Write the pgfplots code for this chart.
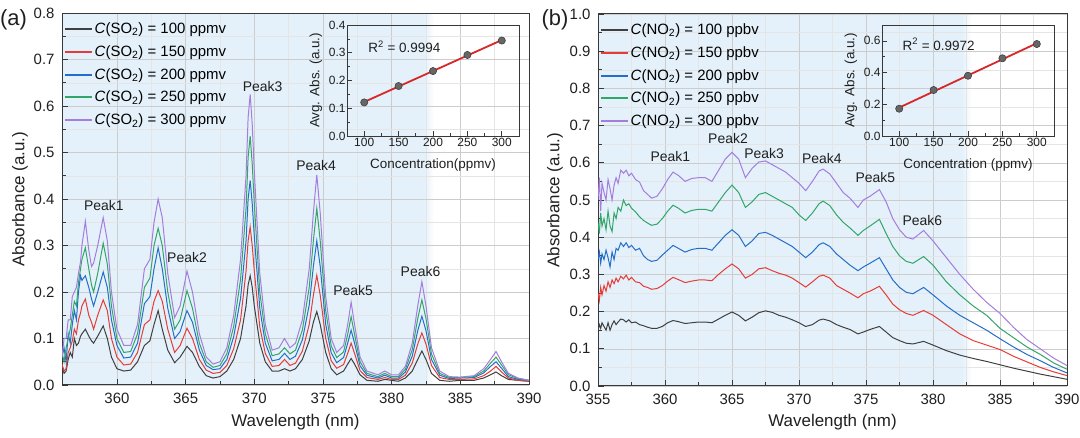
\documentclass[border=0pt]{standalone}
\usepackage{fontspec}
\setmainfont{Liberation Sans}
\usepackage{pgfplots}
\usepackage{pgfplotstable}
\pgfplotsset{compat=1.18}
\definecolor{cgray}{RGB}{64,64,64}
\definecolor{cred}{RGB}{230,60,55}
\definecolor{cblue}{RGB}{35,110,200}
\definecolor{cgreen}{RGB}{50,165,105}
\definecolor{cviolet}{RGB}{165,125,220}
\definecolor{bgblue}{RGB}{228,241,250}
\definecolor{fitred}{RGB}{215,40,40}
\pgfdeclarehorizontalshading{bgshade}{100bp}{color(0bp)=(bgblue); color(25bp)=(bgblue); color(63.8bp)=(bgblue); color(64.8bp)=(white); color(100bp)=(white)}

\pgfplotstableread{
w s1 s2 s3 s4 s5
356.0 0.040 0.045 0.060 0.070 0.060
356.15 0.025 0.030 0.080 0.050 0.100
356.3 0.030 0.035 0.050 0.080 0.100
356.45 0.055 0.070 0.110 0.100 0.140
356.6 0.070 0.080 0.090 0.120 0.140
356.75 0.060 0.095 0.130 0.150 0.190
356.9 0.100 0.120 0.160 0.180 0.200
357.05 0.085 0.110 0.140 0.170 0.210
357.2 0.090 0.140 0.200 0.220 0.240
357.35 0.105 0.155 0.235 0.250 0.265
357.45 0.110 0.170 0.225 0.270 0.300
357.7 0.120 0.185 0.235 0.295 0.352
357.95 0.105 0.150 0.210 0.250 0.290
358.15 0.095 0.135 0.185 0.215 0.255
358.3 0.090 0.120 0.170 0.200 0.262
358.6 0.105 0.150 0.200 0.240 0.300
359.0 0.127 0.183 0.243 0.305 0.360
359.3 0.100 0.160 0.210 0.260 0.310
359.6 0.060 0.100 0.140 0.170 0.200
360.0 0.035 0.060 0.085 0.100 0.120
360.5 0.030 0.043 0.058 0.070 0.085
361.0 0.032 0.045 0.060 0.072 0.085
361.5 0.050 0.070 0.090 0.110 0.130
362.0 0.085 0.130 0.175 0.210 0.250
362.4 0.095 0.140 0.190 0.230 0.270
362.7 0.130 0.180 0.250 0.300 0.350
363.0 0.160 0.203 0.295 0.337 0.400
363.3 0.120 0.180 0.250 0.300 0.360
363.7 0.075 0.120 0.165 0.200 0.240
364.2 0.048 0.070 0.100 0.120 0.145
364.6 0.060 0.085 0.115 0.140 0.170
365.1 0.083 0.122 0.160 0.203 0.245
365.5 0.070 0.100 0.135 0.165 0.200
366.0 0.040 0.055 0.075 0.090 0.110
366.5 0.020 0.032 0.042 0.050 0.060
367.0 0.015 0.025 0.033 0.038 0.045
367.5 0.018 0.027 0.035 0.042 0.050
368.0 0.030 0.042 0.055 0.067 0.080
368.5 0.055 0.078 0.104 0.126 0.150
369.0 0.100 0.140 0.186 0.227 0.270
369.4 0.170 0.245 0.310 0.380 0.450
369.55 0.215 0.310 0.400 0.490 0.575
369.7 0.235 0.340 0.440 0.535 0.625
369.85 0.210 0.300 0.390 0.475 0.560
370.0 0.170 0.245 0.320 0.390 0.460
370.4 0.090 0.125 0.165 0.200 0.240
370.8 0.050 0.068 0.090 0.110 0.130
371.3 0.030 0.040 0.052 0.063 0.075
371.8 0.030 0.042 0.055 0.067 0.080
372.2 0.035 0.055 0.068 0.080 0.100
372.6 0.030 0.042 0.055 0.067 0.080
373.0 0.035 0.047 0.062 0.075 0.090
373.5 0.055 0.073 0.097 0.118 0.140
374.0 0.095 0.130 0.172 0.210 0.250
374.3 0.135 0.193 0.255 0.310 0.370
374.55 0.158 0.236 0.310 0.380 0.452
374.8 0.130 0.193 0.255 0.310 0.370
375.2 0.070 0.100 0.130 0.160 0.190
375.6 0.035 0.052 0.069 0.084 0.100
376.0 0.022 0.036 0.048 0.059 0.070
376.5 0.030 0.044 0.059 0.071 0.085
376.8 0.045 0.068 0.090 0.109 0.130
377.05 0.057 0.090 0.118 0.147 0.178
377.3 0.045 0.068 0.090 0.109 0.130
377.7 0.022 0.031 0.041 0.050 0.060
378.2 0.010 0.016 0.021 0.025 0.030
379.0 0.008 0.012 0.015 0.018 0.022
379.5 0.012 0.016 0.021 0.025 0.030
380.0 0.010 0.012 0.015 0.018 0.022
380.5 0.008 0.012 0.015 0.018 0.022
381.0 0.015 0.021 0.028 0.034 0.040
381.5 0.030 0.047 0.062 0.076 0.090
381.9 0.055 0.088 0.117 0.143 0.170
382.2 0.073 0.112 0.148 0.183 0.222
382.5 0.055 0.088 0.117 0.143 0.170
382.9 0.025 0.042 0.055 0.067 0.080
383.5 0.010 0.016 0.021 0.025 0.030
384.2 0.008 0.012 0.014 0.016 0.018
385.0 0.010 0.012 0.015 0.016 0.017
386.0 0.010 0.013 0.016 0.018 0.020
386.7 0.015 0.020 0.026 0.030 0.035
387.2 0.022 0.030 0.040 0.047 0.055
387.6 0.028 0.040 0.050 0.060 0.072
388.0 0.020 0.028 0.036 0.043 0.050
388.5 0.012 0.015 0.018 0.022 0.025
389.2 0.010 0.010 0.012 0.014 0.015
390.0 0.008 0.008 0.010 0.010 0.010
}\dataA

\pgfplotstableread{
w s1 s2 s3 s4 s5
355.0 0.150 0.250 0.340 0.440 0.500
355.1 0.165 0.230 0.360 0.410 0.560
355.2 0.155 0.265 0.330 0.465 0.470
355.3 0.170 0.245 0.355 0.430 0.545
355.45 0.160 0.270 0.340 0.450 0.520
355.6 0.150 0.255 0.365 0.420 0.500
355.75 0.170 0.280 0.345 0.470 0.555
355.9 0.150 0.265 0.320 0.430 0.530
356.05 0.165 0.285 0.360 0.415 0.500
356.2 0.175 0.275 0.340 0.465 0.540
356.35 0.165 0.290 0.370 0.450 0.560
356.5 0.172 0.280 0.365 0.480 0.545
356.7 0.180 0.295 0.385 0.470 0.580
356.9 0.178 0.288 0.375 0.500 0.572
357.1 0.172 0.298 0.385 0.485 0.580
357.3 0.178 0.285 0.372 0.490 0.565
357.5 0.170 0.292 0.378 0.478 0.572
357.8 0.172 0.280 0.365 0.468 0.555
358.1 0.165 0.278 0.370 0.455 0.548
358.4 0.162 0.268 0.350 0.445 0.525
358.7 0.158 0.265 0.340 0.438 0.515
359.0 0.155 0.260 0.335 0.432 0.505
359.4 0.155 0.262 0.338 0.435 0.510
359.8 0.160 0.270 0.352 0.450 0.530
360.2 0.170 0.282 0.365 0.470 0.555
360.6 0.176 0.292 0.378 0.486 0.575
361.0 0.173 0.286 0.370 0.478 0.566
361.5 0.168 0.278 0.360 0.465 0.550
362.0 0.170 0.282 0.367 0.472 0.558
362.5 0.172 0.285 0.370 0.475 0.560
363.0 0.172 0.285 0.370 0.475 0.560
363.5 0.170 0.283 0.365 0.470 0.550
364.0 0.180 0.300 0.385 0.495 0.580
364.5 0.190 0.315 0.405 0.520 0.610
365.0 0.199 0.328 0.420 0.540 0.628
365.5 0.190 0.315 0.405 0.520 0.610
366.0 0.175 0.290 0.375 0.480 0.560
366.5 0.185 0.300 0.390 0.495 0.585
367.0 0.197 0.315 0.410 0.515 0.602
367.5 0.202 0.318 0.413 0.520 0.605
368.0 0.198 0.310 0.405 0.510 0.595
368.5 0.190 0.303 0.395 0.500 0.585
369.0 0.185 0.298 0.385 0.490 0.575
369.5 0.178 0.290 0.375 0.480 0.560
370.0 0.170 0.278 0.360 0.460 0.545
370.5 0.160 0.266 0.345 0.445 0.525
371.0 0.165 0.280 0.360 0.465 0.550
371.5 0.177 0.295 0.380 0.490 0.578
371.8 0.180 0.298 0.385 0.497 0.583
372.3 0.175 0.290 0.375 0.485 0.570
372.8 0.165 0.270 0.355 0.460 0.545
373.3 0.158 0.260 0.340 0.440 0.520
373.8 0.152 0.250 0.325 0.425 0.505
374.4 0.140 0.237 0.310 0.405 0.480
374.8 0.145 0.248 0.320 0.418 0.500
375.3 0.152 0.255 0.330 0.430 0.510
376.0 0.160 0.268 0.345 0.448 0.528
376.5 0.145 0.245 0.315 0.410 0.495
377.0 0.130 0.220 0.285 0.375 0.450
377.5 0.122 0.205 0.265 0.350 0.420
378.0 0.115 0.195 0.252 0.335 0.400
378.5 0.113 0.190 0.248 0.330 0.395
379.3 0.120 0.203 0.265 0.348 0.418
380.0 0.110 0.190 0.245 0.325 0.390
381.0 0.095 0.165 0.215 0.280 0.345
382.0 0.083 0.140 0.190 0.245 0.300
383.0 0.074 0.122 0.170 0.215 0.260
384.0 0.066 0.110 0.150 0.190 0.225
385.0 0.057 0.098 0.127 0.155 0.195
386.0 0.048 0.080 0.105 0.130 0.158
387.0 0.040 0.065 0.085 0.105 0.125
388.0 0.032 0.050 0.068 0.085 0.100
389.0 0.025 0.038 0.050 0.062 0.075
390.0 0.018 0.028 0.035 0.045 0.055
}\dataB

\pgfplotsset{
  /pgf/number format/assume math mode=true,
  mainstyle/.style={
    scale only axis,
    anchor=south west,
    axis background/.style={shade, shading=bgshade},
    axis line style={black!78, line width=1bp},
    tick style={black!78, line width=0.8bp},
    tick align=inside, tick pos=left,
    major tick length=6bp, minor tick length=3.5bp,
    minor x tick num=1, minor y tick num=1,
    grid=both,
    major grid style={gray!40, line width=0.5bp},
    minor grid style={gray!20, line width=0.4bp},
    tick label style={font=\fontsize{15}{18}\selectfont, text=black!88},
    yticklabel style={xshift=-4bp, /pgf/number format/.cd, fixed, fixed zerofill, precision=1},
    xticklabel style={yshift=-5bp},
    legend cell align=left,
    legend image code/.code={\draw[##1, line width=2bp] (0bp,0bp) -- (27bp,0bp);},
    legend style={draw=none, fill=none, at={(0,1)}, anchor=north west, xshift=2bp, yshift=-8bp,
      inner sep=0pt, row sep=7.5bp, nodes={inner sep=1.5bp},
      font=\fontsize{15}{18}\selectfont},
  },
  insetstyle/.style={
    scale only axis,
    anchor=south west,
    axis line style={black!78, line width=0.9bp},
    tick style={black!78, line width=0.7bp},
    tick align=inside, tick pos=left,
    major tick length=5bp, minor tick length=3bp,
    minor x tick num=1, minor y tick num=1,
    xmin=75, xmax=325,
    xtick={100,150,200,250,300},
    tick label style={font=\fontsize{12}{14}\selectfont, text=black!88},
    yticklabel style={xshift=2bp, /pgf/number format/.cd, fixed, fixed zerofill, precision=1},
    xticklabel style={yshift=1bp},
  },
}

\begin{document}
\begin{tikzpicture}
\path[use as bounding box] (0bp,0bp) rectangle (1080bp,438bp);

% ---------------- panel (a) ----------------
\begin{axis}[mainstyle,
  at={(62bp,53bp)}, width=467bp, height=372bp,
  xmin=356, xmax=390, ymin=0, ymax=0.8,
  xtick={360,365,370,375,380,385,390},
  ytick={0,0.1,0.2,0.3,0.4,0.5,0.6,0.7,0.8},
]
\addplot[cgray, line width=1bp] table[x=w, y=s1] {\dataA};
\addlegendentry{\textit{C}(SO\textsubscript{2}) = 100 ppmv}
\addplot[cred, line width=1bp] table[x=w, y=s2] {\dataA};
\addlegendentry{\textit{C}(SO\textsubscript{2}) = 150 ppmv}
\addplot[cblue, line width=1bp] table[x=w, y=s3] {\dataA};
\addlegendentry{\textit{C}(SO\textsubscript{2}) = 200 ppmv}
\addplot[cgreen, line width=1bp] table[x=w, y=s4] {\dataA};
\addlegendentry{\textit{C}(SO\textsubscript{2}) = 250 ppmv}
\addplot[cviolet, line width=1bp] table[x=w, y=s5] {\dataA};
\addlegendentry{\textit{C}(SO\textsubscript{2}) = 300 ppmv}
\begin{scope}[every node/.style={font=\fontsize{14}{16}\selectfont, text=black!88}]
\node at (axis cs:359.05,0.385) {Peak1};
\node at (axis cs:365.1,0.274) {Peak2};
\node at (axis cs:370.6,0.641) {Peak3};
\node at (axis cs:374.5,0.473) {Peak4};
\node at (axis cs:377.2,0.203) {Peak5};
\node at (axis cs:382.1,0.244) {Peak6};
\end{scope}
\end{axis}

\begin{axis}[insetstyle,
  at={(347bp,302bp)}, width=172bp, height=111bp,
  ymin=0, ymax=0.4, ytick={0,0.1,0.2,0.3,0.4},
]
\addplot[fitred, line width=1.8bp] coordinates {(97,0.1193) (303,0.3491)};
\addplot[only marks, mark=*, mark size=3.6bp, mark options={fill=black!60, draw=black!75, line width=0.6bp}]
  coordinates {(100,0.121) (150,0.180) (200,0.234) (250,0.292) (300,0.344)};
\node[anchor=west, font=\fontsize{13.5}{16}\selectfont, text=black!88] at (axis cs:101,0.322) {R\textsuperscript{2} = 0.9994};
\end{axis}

% ---------------- panel (b) ----------------
\begin{axis}[mainstyle,
  at={(598bp,52bp)}, width=469bp, height=372bp,
  xmin=355, xmax=390, ymin=0, ymax=1.0,
  xtick={355,360,365,370,375,380,385,390},
  ytick={0,0.1,0.2,0.3,0.4,0.5,0.6,0.7,0.8,0.9,1.0},
]
\addplot[cgray, line width=1bp] table[x=w, y=s1] {\dataB};
\addlegendentry{\textit{C}(NO\textsubscript{2}) = 100 ppbv}
\addplot[cred, line width=1bp] table[x=w, y=s2] {\dataB};
\addlegendentry{\textit{C}(NO\textsubscript{2}) = 150 ppbv}
\addplot[cblue, line width=1bp] table[x=w, y=s3] {\dataB};
\addlegendentry{\textit{C}(NO\textsubscript{2}) = 200 ppbv}
\addplot[cgreen, line width=1bp] table[x=w, y=s4] {\dataB};
\addlegendentry{\textit{C}(NO\textsubscript{2}) = 250 ppbv}
\addplot[cviolet, line width=1bp] table[x=w, y=s5] {\dataB};
\addlegendentry{\textit{C}(NO\textsubscript{2}) = 300 ppbv}
\begin{scope}[every node/.style={font=\fontsize{14}{16}\selectfont, text=black!88}]
\node at (axis cs:360.4,0.616) {Peak1};
\node at (axis cs:364.7,0.665) {Peak2};
\node at (axis cs:367.4,0.625) {Peak3};
\node at (axis cs:371.7,0.612) {Peak4};
\node at (axis cs:375.7,0.560) {Peak5};
\node at (axis cs:379.2,0.446) {Peak6};
\end{scope}
\end{axis}

\begin{axis}[insetstyle,
  at={(882bp,302bp)}, width=172bp, height=111bp,
  ymin=0, ymax=0.7, ytick={0,0.2,0.4,0.6},
]
\addplot[fitred, line width=1.8bp] coordinates {(97,0.1729) (303,0.5911)};
\addplot[only marks, mark=*, mark size=3.6bp, mark options={fill=black!60, draw=black!75, line width=0.6bp}]
  coordinates {(100,0.172) (150,0.290) (200,0.380) (250,0.490) (300,0.580)};
\node[anchor=west, font=\fontsize{13.5}{16}\selectfont, text=black!88] at (axis cs:100,0.578) {R\textsuperscript{2} = 0.9972};
\end{axis}

% axis titles
\begin{scope}[every node/.style={font=\fontsize{17}{20}\selectfont, text=black!88}]
\node at (295.5bp,16bp) {Wavelength (nm)};
\node[rotate=90] at (20bp,239bp) {Absorbance (a.u.)};
\node at (832.5bp,16bp) {Wavelength (nm)};
\node[rotate=90] at (555bp,238bp) {Absorbance (a.u.)};
\end{scope}
\begin{scope}[every node/.style={font=\fontsize{13.5}{16}\selectfont, text=black!88}]
\node at (433bp,273bp) {Concentration(ppmv)};
\node[rotate=90] at (316bp,357.5bp) {Avg. Abs. (a.u.)};
\node at (968bp,273bp) {Concentration (ppmv)};
\node[rotate=90] at (851bp,357.5bp) {Avg. Abs. (a.u.)};
\end{scope}

\node[font=\fontsize{22}{26}\selectfont, text=black!88] at (13.5bp,418bp) {(a)};
\node[font=\fontsize{22}{26}\selectfont, text=black!88] at (555bp,418bp) {(b)};
\end{tikzpicture}
\end{document}
